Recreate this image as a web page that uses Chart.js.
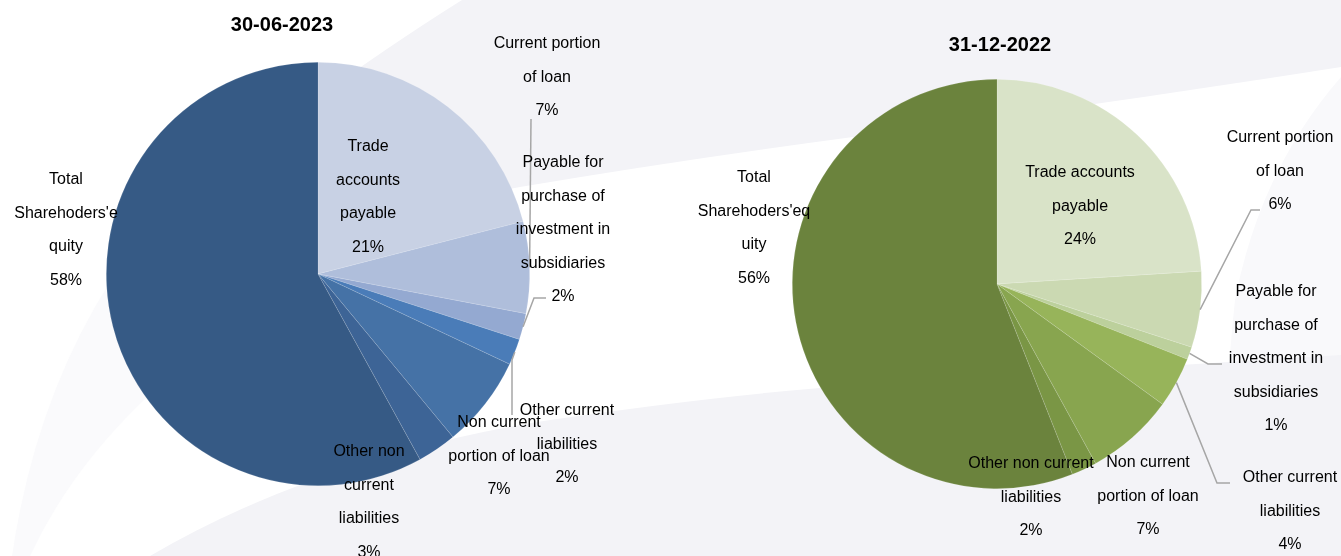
<!DOCTYPE html>
<html>
<head>
<meta charset="utf-8">
<script src="https://cdn.jsdelivr.net/npm/chart.js@4.4.1/dist/chart.umd.min.js"></script>
<style>
  html,body{margin:0;padding:0;background:#fff;}
  #wrap{position:relative;width:1341px;height:556px;overflow:hidden;background:#fff;}
  #bg{position:absolute;left:0;top:0;}
  .c{position:absolute;top:0;}
</style>
</head>
<body>
<div id="wrap">
  <svg id="bg" width="1341" height="556" viewBox="0 0 1341 556">
    <path d="M1341 77 Q1260 170 1235 300 Q1222 420 1225 556 L1341 556 Z" fill="#f9f9fb"/>
    <path d="M462 0 L1341 0 L1341 67 Q1100 105 853 137 Q680 160 520 187 L420 205 L300 110 Q390 45 462 0 Z" fill="#f3f3f7"/>
    <path d="M150 556 Q220 515 300 485 Q420 440 550 420 Q700 398 820 388 Q1100 370 1341 355 L1341 556 Z" fill="#f3f3f7"/>
    <path d="M12 556 Q35 400 110 282 L147 397 Q70 470 30 556 Z" fill="#fafafc"/>
  </svg>
  <canvas id="c1" class="c" style="left:0px" width="670" height="556"></canvas>
  <canvas id="c2" class="c" style="left:670px" width="671" height="556"></canvas>
</div>
<script>
// ---- data ----
const categories = [
  "Trade accounts payable",
  "Current portion of loan",
  "Payable for purchase of investment in subsidiaries",
  "Other current liabilities",
  "Non current portion of loan",
  "Other non current liabilities",
  "Total Shareholders' equity"
];
const values2023 = [21, 7, 2, 2, 7, 3, 58];
const values2022 = [24, 6, 1, 4, 7, 2, 56];
const titles = ["30-06-2023", "31-12-2022"];
// label text as wrapped in the reference
const labelLines2023 = [
  ["Trade", "accounts", "payable"],
  ["Current portion", "of loan"],
  ["Payable for", "purchase of", "investment in", "subsidiaries"],
  ["Other current", "liabilities"],
  ["Non current", "portion of loan"],
  ["Other non", "current", "liabilities"],
  ["Total", "Sharehoders'e", "quity"]
];
const labelLines2022 = [
  ["Trade accounts", "payable"],
  ["Current portion", "of loan"],
  ["Payable for", "purchase of", "investment in", "subsidiaries"],
  ["Other current", "liabilities"],
  ["Non current", "portion of loan"],
  ["Other non current", "liabilities"],
  ["Total", "Sharehoders'eq", "uity"]
];
const colors2023 = ["#c8d1e4", "#afbedb", "#94a9d1", "#4a7cb8", "#4572a6", "#3d6496", "#365a85"];
const colors2022 = ["#d9e3c8", "#cbd9b2", "#bcd09c", "#97b45a", "#88a54f", "#7a9645", "#6b833d"];

// ---- layout (page coordinates; label centre x, first line y; leader points) ----
const layout2023 = {
  offsetX: 0, padding: {left:106, top:62, right:140, bottom:70},
  title: {x:282, y:25},
  labels: [
    {x:368, y:147}, {x:547, y:44}, {x:563, y:163}, {x:567, y:411},
    {x:499, y:423}, {x:369, y:452}, {x:66, y:180}
  ],
  leaders: {1: [[531,119]], 2: [[546,298],[534,298]], 3: [[512,415],[512,360]]}
};
const layout2022 = {
  offsetX: 670, padding: {left:122, top:79, right:139, bottom:67},
  title: {x:1000, y:45},
  labels: [
    {x:1080, y:173}, {x:1280, y:138}, {x:1276, y:292}, {x:1290, y:478},
    {x:1148, y:463}, {x:1031, y:464}, {x:754, y:178}
  ],
  leaders: {1: [[1260,210],[1251,210]], 2: [[1222,364],[1208,364]], 3: [[1230,483],[1217,483]]}
};

const LINE_H = 33.5;
const FONT = '"Liberation Sans", Arial, sans-serif';

const labelPlugin = {
  id: 'pieLabels',
  afterDatasetsDraw(chart) {
    const o = chart.options.plugins.pieLabels;
    const L = o.layout, ox = L.offsetX;
    const ctx = chart.ctx;
    const meta = chart.getDatasetMeta(0);
    const vals = chart.data.datasets[0].data;
    ctx.save();
    // leader lines
    ctx.strokeStyle = '#a6a6a6';
    ctx.lineWidth = 1.5;
    Object.keys(L.leaders).forEach(k => {
      const arc = meta.data[+k];
      const p = arc.getProps(['x','y','startAngle','endAngle','outerRadius'], true);
      const mid = (p.startAngle + p.endAngle) / 2;
      const ex = p.x + Math.cos(mid) * p.outerRadius;
      const ey = p.y + Math.sin(mid) * p.outerRadius;
      ctx.beginPath();
      L.leaders[k].forEach((pt, j) => {
        if (j === 0) ctx.moveTo(pt[0] - ox, pt[1]); else ctx.lineTo(pt[0] - ox, pt[1]);
      });
      ctx.lineTo(ex, ey);
      ctx.stroke();
    });
    // labels
    ctx.fillStyle = '#000';
    ctx.font = '16px ' + FONT;
    ctx.textAlign = 'center';
    ctx.textBaseline = 'middle';
    o.lines.forEach((lines, i) => {
      const pos = L.labels[i];
      const all = lines.concat([vals[i] + '%']);
      all.forEach((t, j) => ctx.fillText(t, pos.x - ox, pos.y + j * LINE_H));
    });
    // title
    ctx.font = 'bold 20px ' + FONT;
    ctx.fillText(o.title, L.title.x - ox, L.title.y);
    ctx.restore();
  }
};

function makePie(id, values, colors, lines, layout, title) {
  return new Chart(document.getElementById(id), {
    type: 'pie',
    data: {
      labels: categories,
      datasets: [{
        data: values,
        backgroundColor: colors,
        borderColor: 'rgba(255,255,255,0.22)',
        borderWidth: 0.6
      }]
    },
    options: {
      responsive: false,
      animation: false,
      layout: {padding: layout.padding},
      plugins: {
        legend: {display: false},
        tooltip: {enabled: false},
        pieLabels: {layout: layout, lines: lines, title: title}
      }
    },
    plugins: [labelPlugin]
  });
}

makePie('c1', values2023, colors2023, labelLines2023, layout2023, titles[0]);
makePie('c2', values2022, colors2022, labelLines2022, layout2022, titles[1]);
</script>
</body>
</html>
